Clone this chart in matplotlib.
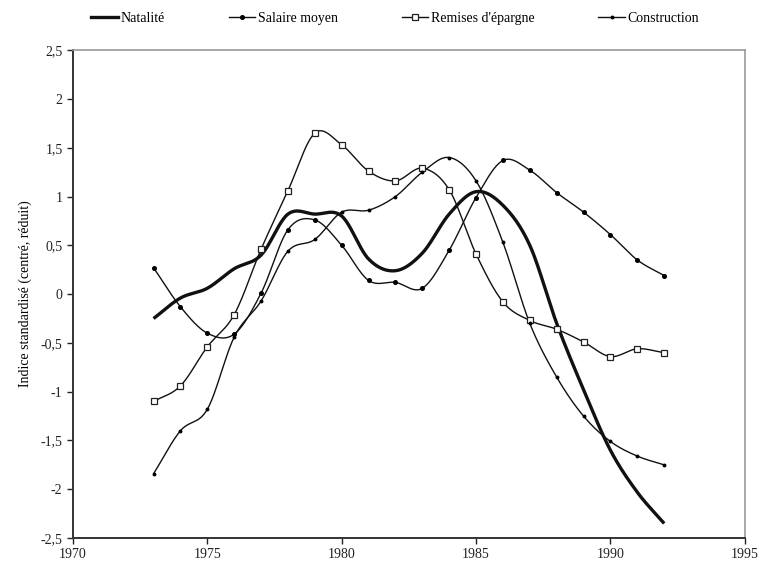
import matplotlib
matplotlib.use("Agg")
import matplotlib.pyplot as plt
import numpy as np
from matplotlib.ticker import FuncFormatter, MultipleLocator

# === Data ===
years = list(range(1973, 1993))

natalite = [-0.25, -0.04, 0.06, 0.26, 0.40, 0.82, 0.82, 0.80, 0.36, 0.24,
            0.42, 0.82, 1.05, 0.91, 0.50, -0.30, -0.98, -1.60, -2.03, -2.35]
salaire_moyen = [0.27, -0.13, -0.40, -0.41, 0.01, 0.66, 0.76, 0.50, 0.14, 0.12,
                 0.06, 0.45, 0.99, 1.37, 1.27, 1.04, 0.84, 0.61, 0.35, 0.19]
remises = [-1.10, -0.94, -0.54, -0.21, 0.46, 1.06, 1.65, 1.53, 1.26, 1.16,
           1.29, 1.07, 0.41, -0.08, -0.27, -0.36, -0.49, -0.64, -0.56, -0.60]
construction = [-1.84, -1.40, -1.18, -0.44, -0.07, 0.44, 0.56, 0.84, 0.86, 1.00,
                1.25, 1.40, 1.16, 0.53, -0.30, -0.85, -1.25, -1.51, -1.66, -1.75]

labels = ["Natalité", "Salaire moyen", "Remises d'épargne", "Construction"]

plt.rcParams["font.family"] = ["Liberation Serif", "DejaVu Serif"]


def smooth(x, y, n=24):
    """Catmull-Rom curve through the points, like a spreadsheet 'smoothed line'."""
    x = np.asarray(x, float)
    y = np.asarray(y, float)
    px = np.concatenate([[2 * x[0] - x[1]], x, [2 * x[-1] - x[-2]]])
    py = np.concatenate([[2 * y[0] - y[1]], y, [2 * y[-1] - y[-2]]])
    t = np.linspace(0, 1, n, endpoint=False)
    xs, ys = [], []
    for i in range(1, len(px) - 2):
        for p, out in ((px, xs), (py, ys)):
            p0, p1, p2, p3 = p[i - 1], p[i], p[i + 1], p[i + 2]
            out.append(0.5 * (2 * p1 + (-p0 + p2) * t
                              + (2 * p0 - 5 * p1 + 4 * p2 - p3) * t ** 2
                              + (-p0 + 3 * p1 - 3 * p2 + p3) * t ** 3))
    xs.append([x[-1]])
    ys.append([y[-1]])
    return np.concatenate(xs), np.concatenate(ys)


fig = plt.figure(figsize=(7.6, 5.7), dpi=100)
ax = fig.add_axes([0.096, 0.056, 0.884, 0.856])

styles = [
    dict(lw=2.4, marker=None),
    dict(lw=1.0, marker="o", ms=2.6, mfc="black", mec="black"),
    dict(lw=1.0, marker="s", ms=4.2, mfc="white", mec="#222222", mew=0.9),
    dict(lw=1.0, marker="o", ms=1.8, mfc="black", mec="black"),
]

handles = []
for vals, lab, st in zip([natalite, salaire_moyen, remises, construction], labels, styles):
    sx, sy = smooth(years, vals)
    ax.plot(sx, sy, color="#111111", lw=st["lw"], solid_capstyle="butt", zorder=2)
    if st["marker"]:
        ax.plot(years, vals, ls="none", marker=st["marker"], ms=st["ms"],
                mfc=st["mfc"], mec=st["mec"], mew=st.get("mew", 1.0), zorder=3)
    h, = ax.plot([], [], color="#111111", lw=st["lw"], marker=st["marker"],
                 ms=st.get("ms", 0), mfc=st.get("mfc", "black"),
                 mec=st.get("mec", "black"), mew=st.get("mew", 1.0))
    handles.append(h)

ax.set_xlim(1970, 1995)
ax.set_ylim(-2.5, 2.5)
ax.xaxis.set_major_locator(MultipleLocator(5))
ax.yaxis.set_major_locator(MultipleLocator(0.5))
ax.yaxis.set_major_formatter(FuncFormatter(lambda v, p: f"{v:g}".replace(".", ",")))
ax.tick_params(direction="out", length=4, width=1, labelsize=10, colors="#222222")

for side in ("left", "bottom"):
    ax.spines[side].set_color("#333333")
    ax.spines[side].set_linewidth(1.4)
for side in ("top", "right"):
    ax.spines[side].set_color("#999999")
    ax.spines[side].set_linewidth(1.2)

ax.set_ylabel("Indice standardisé (centré, réduit)", fontsize=10, labelpad=6)

fig.legend(handles, labels, loc="center", bbox_to_anchor=(0.52, 0.968), ncol=4,
           frameon=False, fontsize=10, handlelength=1.9, handletextpad=0.2,
           columnspacing=4.6)

fig.savefig("out.png", dpi=100)
